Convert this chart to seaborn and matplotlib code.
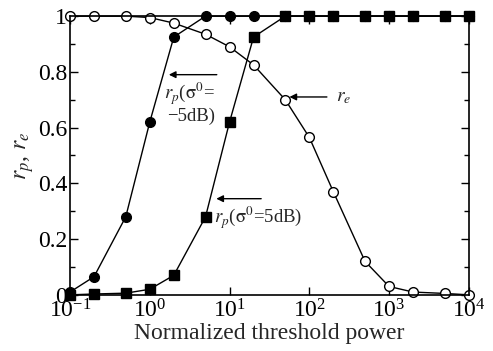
import numpy as np
import pandas as pd
import matplotlib
matplotlib.use("Agg")
import matplotlib.pyplot as plt
import seaborn as sns

# ── DATA ────────────────────────────────────────────────────
threshold = [0.1, 0.2, 0.5, 1, 2, 5, 10, 20, 50, 100, 200, 500, 1000, 2000, 5000, 10000]

rp_minus5 = [0.01, 0.065, 0.28, 0.62, 0.925, 1.0, 1.0, 1.0, 1.0, 1.0, 1.0, 1.0, 1.0, 1.0, 1.0, 1.0]
rp_plus5 = [0.0, 0.003, 0.006, 0.02, 0.07, 0.28, 0.62, 0.925, 1.0, 1.0, 1.0, 1.0, 1.0, 1.0, 1.0, 1.0]
re_vals = [1.0, 1.0, 1.0, 0.995, 0.975, 0.935, 0.89, 0.825, 0.70, 0.565, 0.37, 0.12, 0.03, 0.01, 0.005, 0.0]

yticks = [0, 0.2, 0.4, 0.6, 0.8, 1]
ytick_labels = ["0", "0.2", "0.4", "0.6", "0.8", "1"]

# ── STYLE ───────────────────────────────────────────────────
sns.set_theme(style="ticks")
plt.rcParams["font.family"] = ["Liberation Serif", "DejaVu Serif"]
plt.rcParams["mathtext.fontset"] = "stix"

fig = plt.figure(figsize=(4.93, 3.51), dpi=100)
ax = fig.add_axes([0.142, 0.160, 0.809, 0.794])

line_kw = dict(color="black", linewidth=1.0, markersize=7, clip_on=False,
               markeredgecolor="black", markeredgewidth=1.0)

sns.lineplot(x=threshold, y=re_vals, ax=ax, marker="o", markerfacecolor="white", **line_kw)
sns.lineplot(x=threshold, y=rp_minus5, ax=ax, marker="o", markerfacecolor="black", **line_kw)
sns.lineplot(x=threshold, y=rp_plus5, ax=ax, marker="s", markerfacecolor="black", **line_kw)

ax.set_xscale("log")
ax.set_xlim(0.1, 1e4)
ax.set_ylim(0, 1)
ax.set_xticks([0.1, 1, 10, 100, 1000, 10000])
ax.xaxis.set_minor_locator(matplotlib.ticker.NullLocator())
ax.set_yticks(yticks)
ax.set_yticklabels(ytick_labels)
ax.yaxis.set_minor_locator(matplotlib.ticker.MultipleLocator(0.1))

ax.tick_params(axis="both", which="both", direction="in", top=True, right=True,
               labelsize=17, colors="black")
ax.tick_params(axis="x", pad=3.5)
ax.tick_params(axis="y", pad=2)
ax.tick_params(which="major", length=6, width=1)
ax.tick_params(which="minor", length=3.5, width=1)
for s in ax.spines.values():
    s.set_linewidth(1.2)
    s.set_color("black")

ax.set_xlabel("Normalized threshold power", fontsize=17, labelpad=0)
ax.set_ylabel("$r_p$, $r_e$", fontsize=17, labelpad=1)

# ── ANNOTATIONS ─────────────────────────────────────────────
arrow = dict(arrowstyle="-|>", color="black", lw=1.0, mutation_scale=10)
ax.annotate("", xy=(1.6, 0.79), xytext=(7.5, 0.79), arrowprops=arrow)
ax.text(1.5, 0.70, r"$r_p$($\mathrm{\sigma}^0$=", fontsize=13.5)
ax.text(1.65, 0.625, "\u22125dB)", fontsize=13.5)

ax.annotate("", xy=(52, 0.71), xytext=(180, 0.71), arrowprops=arrow)
ax.text(215, 0.695, "$r_e$", fontsize=14)

ax.annotate("", xy=(6.3, 0.345), xytext=(27, 0.345), arrowprops=arrow)
ax.text(6.3, 0.255, r"$r_p$($\mathrm{\sigma}^0$=5dB)", fontsize=13.5)

fig.savefig("out.png", dpi=100)
